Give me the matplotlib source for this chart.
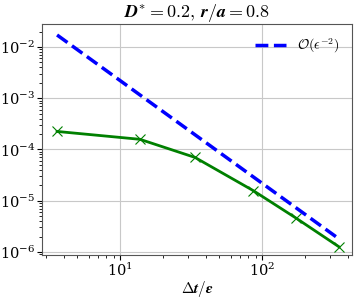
import matplotlib
matplotlib.use("Agg")
import matplotlib.pyplot as plt

plt.rcParams['mathtext.fontset'] = 'cm'
plt.rcParams['font.family'] = ['DejaVu Serif']

dt_eps = [3.6, 13.8, 33.7, 86.5, 173, 348]
error = [2.25e-4, 1.58e-4, 7.0e-5, 1.58e-5, 4.6e-6, 1.26e-6]
ref_x = [3.6, 348]
ref_y = [1.72e-2, 1.80e-6]
title = (r'$\boldsymbol{D}^{\boldsymbol{*}}\boldsymbol{=}\mathbf{0.2},\,'
         r'\boldsymbol{r}\boldsymbol{/}\boldsymbol{a}\boldsymbol{=}\mathbf{0.8}$')
xlabel = r'$\mathbf{\Delta}\boldsymbol{t}\boldsymbol{/}\boldsymbol{\epsilon}$'
ref_label = r'$\mathcal{O}(\epsilon^{-2})$'

fig = plt.figure(figsize=(3.59, 2.98), dpi=100)
ax = fig.add_axes([42/359, 1-255/298, 310/359, 231/298])
ax.plot(dt_eps, error, color='green', lw=2, marker='x', ms=7, mew=0.8)
ax.plot(ref_x, ref_y, color='blue', lw=2.5, ls='--', label=ref_label)
ax.set_xscale('log')
ax.set_yscale('log')
ax.set_xlim(2.82, 430)
ax.set_ylim(10**-6.06, 10**-1.55)
ax.grid(True, which='major', color='#c8c8c8', lw=0.8)
ax.set_title(title, fontsize=13, pad=4)
ax.set_xlabel(xlabel, fontsize=11, labelpad=0)
ax.tick_params(labelsize=10.5, pad=1.5)
for s in ax.spines.values():
    s.set_color('#555555')
ax.legend(loc='upper right', frameon=False, fontsize=10, handlelength=2.2)
fig.savefig('out.png', dpi=100)
